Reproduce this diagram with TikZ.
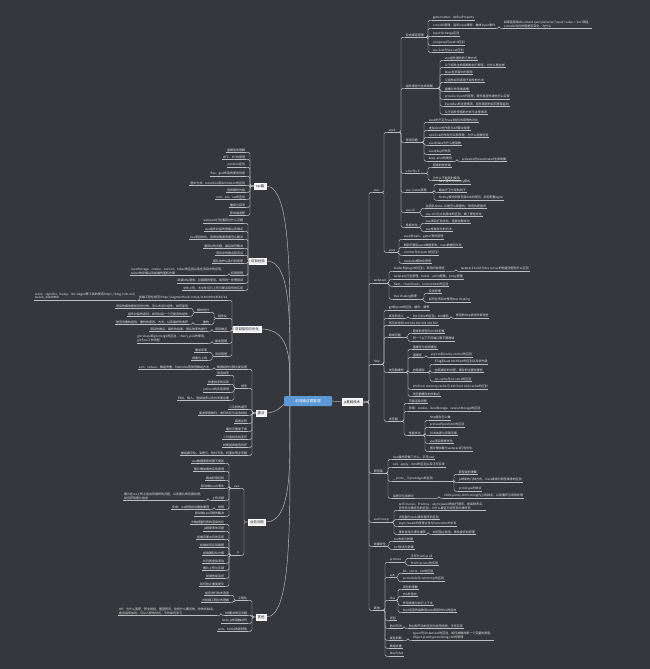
\documentclass[tikz,border=0pt]{standalone}
\usepackage{fontspec}
\newfontfamily\cjk{Noto Sans CJK SC}
\definecolor{bgc}{RGB}{54,55,60}
\definecolor{lc}{RGB}{190,190,194}
\definecolor{tc}{RGB}{232,232,232}
\definecolor{rootc}{RGB}{90,152,214}
\pgfdeclarelayer{back}
\pgfdeclarelayer{lines}
\pgfsetlayers{back,lines,main}
\newcommand\rconn[2]{\foreach \x in {#2}{\draw[conn] (#1) -| ([xshift=-4pt]\x.south west) -- (\x.south west);}}
\newcommand\lconn[2]{\foreach \x in {#2}{\draw[conn] (#1) -| ([xshift=4pt]\x.south east) -- (\x.south east);}}
\tikzset{
  conn/.style={draw=lc, line width=0.45pt, rounded corners=1.5pt},
  tx/.style={font=\cjk\fontsize{3}{3.7}\selectfont, text=tc, inner xsep=0.6pt, inner ysep=0.7pt, yshift=-2.3pt, align=left},
  rt/.style={tx, anchor=south west, append after command={(\tikzlastnode.south west) edge[conn] (\tikzlastnode.south east)}},
  lt/.style={tx, anchor=south east, append after command={(\tikzlastnode.south west) edge[conn] (\tikzlastnode.south east)}},
  box/.style={draw=white, fill=white!94!black, text=black!85, font=\cjk\fontsize{3.4}{4}\selectfont, inner xsep=1.8pt, inner ysep=1.5pt, line width=0.4pt},
  rootn/.style={fill=rootc, text=white, font=\cjk\fontsize{3.6}{4.2}\selectfont, minimum width=48pt, minimum height=10pt, rounded corners=1pt, inner sep=1pt}
}
\begin{document}
\begin{tikzpicture}[x=1pt,y=-1pt]
\begin{pgfonlayer}{back}
\fill[bgc] (0,0) rectangle (650,669);
\end{pgfonlayer}
\useasboundingbox (0,0) rectangle (650,669);

% ---------- root ----------
\node[rootn] (root) at (308,401) {前端面试题整理};
\node[box] (R) at (352,402) {js基础技术};
\draw[conn] (root.east) -- (R.west);

% ---------- right level 1 ----------
\node[rt] (R1) at (373,190) {vue};
\node[rt] (R2) at (373,281) {webpack};
\node[rt] (R3) at (373,362) {http};
\node[rt] (R4) at (373,471) {原型链};
\node[rt] (R5) at (373,520) {event loop};
\node[rt] (R6) at (373,544) {前端安全};
\node[rt] (R7) at (373,608) {其他};
\rconn{R.east}{R1,R2,R3,R4,R5,R6,R7}

% vue
\node[rt] (V2) at (388,130) {vue2};
\node[rt] (VX) at (388,250) {vuex};
\rconn{R1.south east}{V2,VX}
\node[rt] (A) at (405,35) {双向绑定原理};
\node[rt] (B) at (405,86) {组件通信与生命周期};
\node[rt] (C) at (405,140) {常用问题};
\node[rt] (D) at (405,171) {v-for与v-if};
\node[rt] (E) at (405,190) {vue-router原理};
\node[rt] (F) at (405,210) {vue-cli};
\node[rt] (G) at (405,225) {性能优化};
\rconn{V2.south east}{A,B,C,D,E,F,G}

\node[rt] (A1) at (432,18) {getter/setter、defineProperty};
\node[rt] (A2) at (432,26) {v-model原理，监听input事件、触发input事件};
\node[rt] (A3) at (432,34) {input与change区别};
\node[rt] (A4) at (432,43) {computed与watch区别};
\node[rt] (A5) at (432,50) {vue.\$set与Vue.set区别};
\rconn{A.south east}{A1,A2,A3,A4,A5}
\node[rt] (A2a) at (503,26) {如果直接给document.querySelector('input').value = 'xxx'赋值，\\v-model对应的值是否变化，为什么};
\rconn{A2.south east}{A2a}

\node[rt] (B1) at (444,58) {vue组件通信的几种方式};
\node[rt] (B2) at (444,65) {父子组件生命周期的执行顺序，为什么是这样};
\node[rt] (B3) at (444,72) {\$bus在项目中的使用};
\node[rt] (B4) at (444,80) {父组件如何调用子组件的方法};
\node[rt] (B5) at (444,89) {插槽与作用域插槽};
\node[rt] (B6) at (444,97) {provide/inject的原理，跨多层组件通信怎么实现};
\node[rt] (B7) at (444,104) {EventBus的注意事项，组件销毁时如何移除监听};
\node[rt] (B8) at (444,112) {父子组件传值的方式与注意事项};
\rconn{B.south east}{B1,B2,B3,B4,B5,B6,B7,B8}

\node[rt] (C1) at (428,120) {vue2的不足与vue3响应式原理的对比};
\node[rt] (C2) at (428,128) {虚拟dom的作用与diff算法原理};
\node[rt] (C3) at (428,135) {nextTick的作用与实现原理，为什么用微任务};
\node[rt] (C4) at (428,143) {vue中data为什么是函数};
\node[rt] (C5) at (428,152) {vue中key的作用};
\node[rt] (C6) at (428,159) {keep-alive的使用};
\rconn{C.south east}{C1,C2,C3,C4,C5,C6}
\node[rt] (C6a) at (461,159) {activated与deactivated生命周期};
\rconn{C6.south east}{C6a}

\node[rt] (D1) at (432,165) {两者的优先级};
\node[rt] (D2) at (432,178) {为什么不能同时使用};
\rconn{D.south east}{D1,D2}

\node[rt] (E1) at (438,182) {hash模式与history模式};
\node[rt] (E2) at (438,190) {路由守卫与导航钩子};
\node[rt] (E3) at (438,198) {history模式刷新页面404的原因，如何配置nginx};
\rconn{E.south east}{E1,E2,E3}

\node[rt] (F1) at (425,206) {在团队中vue-cli是怎么配置的，常用的配置项};
\node[rt] (F2) at (425,214) {vue-cli3与之前版本的区别，做了哪些优化};
\rconn{F.south east}{F1,F2}

\node[rt] (G1) at (425,221) {vue项目打包优化，首屏加载优化};
\node[rt] (G2) at (425,229) {vue性能优化的方法};
\rconn{G.south east}{G1,G2}

\node[rt] (X1) at (403,237) {vuex的state、getter等的原理};
\node[rt] (X2) at (403,245) {刷新页面后vuex数据丢失，vuex数据持久化};
\node[rt] (X3) at (403,253) {commit与dispatch的区别};
\node[rt] (X4) at (403,261) {modules模块化管理};
\rconn{VX.south east}{X1,X2,X3,X4}

% webpack
\node[rt] (W1) at (393,269) {loader和plugin的区别，常用的有哪些};
\node[rt] (W2) at (393,277) {webpack打包原理，babel、eslint配置，proxy配置};
\node[rt] (W3) at (393,284) {hash、chunkhash、contenthash的区别};
\node[rt] (W4) at (393,297) {tree shaking原理};
\rconn{R2.south east}{W1,W2,W3,W4}
\node[rt] (W1a) at (460,269) {webpack build与dev server的构建流程有什么区别};
\rconn{W1.south east}{W1a}
\node[rt] (W4a) at (428,291) {实现原理};
\node[rt] (W4b) at (428,300) {如何在项目中使用tree shaking};
\rconn{W4.south east}{W4a,W4b}

% http
\node[rt] (H1) at (388,308) {get和post的区别、缓存、幂等};
\node[rt] (H2) at (388,316) {状态码含义};
\node[rt] (H3) at (388,323) {常见状态码 200 301 302 304 404 500};
\node[rt] (H4) at (388,335) {跨域问题};
\node[rt] (H5) at (388,370) {浏览器缓存};
\node[rt] (H6) at (388,419) {浏览器};
\rconn{R3.south east}{H1,H2,H3,H4,H5,H6}
\node[rt] (H2a) at (412,316) {301与302的区别，304缓存};
\rconn{H2.south east}{H2a}
\node[rt] (H2b) at (455,316) {常用的http状态码有哪些};
\rconn{H2a.south east}{H2b}
\node[rt] (H4a) at (412,331) {跨域的原因与CORS配置};
\node[rt] (H4b) at (412,339) {同一个ip下不同端口算不算跨域};
\rconn{H4.south east}{H4a,H4b}
\node[rt] (H51) at (412,347) {强缓存与协商缓存};
\node[rt] (H52) at (412,355) {强缓存};
\node[rt] (H53) at (412,370) {协商缓存};
\node[rt] (H54) at (412,387) {200 from memory cache 与 200 from disk cache的区别};
\node[rt] (H55) at (412,394) {浏览器缓存的优缺点};
\rconn{H5.south east}{H51,H52,H53,H54,H55}
\node[rt] (H52a) at (430,355) {expires和cache-control的区别};
\rconn{H52.south east}{H52a}
\node[rt] (H53a) at (434,362) {ETag和Last-Modified的区别以及优先级};
\node[rt] (H53b) at (434,370) {协商缓存的过程，缓存的位置有哪些};
\node[rt] (H53c) at (434,379) {no-cache与no-store的区别};
\rconn{H53.south east}{H53a,H53b,H53c}
\node[rt] (H61) at (408,401) {页面渲染流程};
\node[rt] (H62) at (408,409) {存储：cookie、localStorage、sessionStorage的区别};
\node[rt] (H63) at (408,433) {性能优化};
\rconn{H6.south east}{H61,H62,H63}
\node[rt] (H63a) at (429,418) {http缓存怎么做};
\node[rt] (H63b) at (429,425) {preload与prefetch的区别};
\node[rt] (H63c) at (429,433) {CDN加速与资源压缩};
\node[rt] (H63d) at (429,441) {vue项目首屏优化};
\node[rt] (H63e) at (429,449) {图片懒加载与webpack打包优化};
\rconn{H63.south east}{H63a,H63b,H63c,H63d,H63e}

% 原型链
\node[rt] (P1) at (392,457) {new操作符做了什么，手写new};
\node[rt] (P2) at (392,465) {call、apply、bind的区别以及手写实现};
\node[rt] (P3) at (392,479) {\_\_proto\_\_与prototype的区别};
\node[rt] (P4) at (392,496) {深拷贝与浅拷贝};
\rconn{R4.south east}{P1,P2,P3,P4}
\node[rt] (P3a) at (458,472) {原型链的理解};
\node[rt] (P3b) at (458,480) {js继承的几种方式，class继承与原型继承的区别};
\node[rt] (P3c) at (458,489) {prototype的缺点};
\rconn{P3.south east}{P3a,P3b,P3c}
\node[rt] (P4a) at (443,496) {JSON.parse(JSON.stringify())的缺点，以及循环引用的处理};
\rconn{P4.south east}{P4a}

% event loop
\node[rt] (Q1) at (398,508) {setTimeout、Promise、async/await的执行顺序，是高频考点，\\宏任务与微任务的区别，为什么要区分宏任务与微任务};
\node[rt] (Q2) at (398,517) {浏览器与node事件循环的区别};
\node[rt] (Q3) at (398,524) {async/await的原理以及与Generator的关系};
\node[rt] (Q4) at (398,532) {事件冒泡与事件捕获};
\rconn{R5.south east}{Q1,Q2,Q3,Q4}
\node[rt] (Q4a) at (432,532) {如何阻止冒泡，事件委托的原理};
\rconn{Q4.south east}{Q4a}

% 前端安全
\node[rt] (S1) at (393,539) {xss攻击与防御};
\node[rt] (S2) at (393,547) {csrf攻击与防御};
\rconn{R6.south east}{S1,S2}

% 其他 (right)
\node[rt] (O1) at (389,560) {promise};
\node[rt] (O2) at (389,575) {es6};
\node[rt] (O3) at (389,598) {this};
\node[rt] (O4) at (389,618) {闭包};
\node[rt] (O5) at (389,626) {防抖节流};
\node[rt] (O6) at (389,638) {类型判断};
\node[rt] (O7) at (389,646) {数组去重};
\node[rt] (O8) at (389,654) {Map与Set};
\rconn{R7.south east}{O1,O2,O3,O4,O5,O6,O7,O8}
\node[rt] (O1a) at (410,556) {手写Promise.all};
\node[rt] (O1b) at (410,563) {Promise.race的实现};
\rconn{O1.south east}{O1a,O1b}
\node[rt] (O2a) at (402,571) {let、const、var的区别};
\node[rt] (O2b) at (402,579) {es module与commonjs的区别};
\rconn{O2.south east}{O2a,O2b}
\node[rt] (O3a) at (402,587) {闭包的理解};
\node[rt] (O3b) at (402,594) {this的指向};
\node[rt] (O3c) at (402,603) {作用域链与执行上下文};
\node[rt] (O3d) at (402,610) {bind返回的函数用new调用时this的指向};
\rconn{O3.south east}{O3a,O3b,O3c,O3d}
\node[rt] (O5a) at (408,626) {防抖和节流的区别与应用场景，手写实现};
\rconn{O5.south east}{O5a}
\node[rt] (O6a) at (412,638) {typeof与instanceof的区别，如何准确判断一个变量的类型，\\Object.prototype.toString.call的原理};
\rconn{O6.south east}{O6a}

% ---------- left level 1 ----------
\node[box] (L1) at (260,186) {css篇};
\node[box] (L2) at (258,261) {项目经验};
\node[box] (L3) at (247,329) {项目架构与优化};
\node[box] (L4) at (261,413) {算法};
\node[box] (L5) at (257,522) {业务问题};
\node[box] (L6) at (261,617) {其他};
\begin{pgfonlayer}{lines}
\draw[conn] ([xshift=6pt]root.west) .. controls (290,293) and (293,186) .. (L1.east);
\draw[conn] ([xshift=6pt]root.west) .. controls (290,331) and (293,261) .. (L2.east);
\draw[conn] ([xshift=6pt]root.west) .. controls (290,365) and (293,329) .. (L3.east);
\draw[conn] ([xshift=6pt]root.west) .. controls (284,401) and (280,413) .. (L4.east);
\draw[conn] ([xshift=6pt]root.west) .. controls (290,461) and (293,522) .. (L5.east);
\draw[conn] ([xshift=6pt]root.west) .. controls (290,509) and (293,617) .. (L6.east);
\end{pgfonlayer}

% css
\node[lt] (c1) at (246,150) {盒模型的理解};
\node[lt] (c2) at (246,157) {BFC、IFC的原理};
\node[lt] (c3) at (246,165) {position定位};
\node[lt] (c4) at (246,174) {flex、grid布局的使用场景};
\node[lt] (c5) at (246,183) {居中方式、transition和animation的区别};
\node[lt] (c6) at (246,190) {选择器优先级};
\node[lt] (c7) at (246,197) {rem、em、vw的区别};
\node[lt] (c8) at (246,205) {重绘与回流};
\node[lt] (c9) at (246,213) {移动端适配};
\lconn{L1.west}{c1,c2,c3,c4,c5,c6,c7,c8,c9}

% 项目经验
\node[lt] (d1) at (244,221) {webpack打包遇到过什么问题};
\node[lt] (d2) at (244,229) {vue组件封装的思路以及难点};
\node[lt] (d3) at (244,237) {vue项目优化，首屏加载速度慢怎么解决};
\node[lt] (d4) at (244,246) {遇到过的问题，最后如何解决};
\node[lt] (d5) at (244,253) {项目中的难点和亮点};
\node[lt] (d6) at (244,261) {团队协作以及代码管理};
\node[lt] (d7) at (244,273) {权限管理};
\node[lt] (d8) at (244,281) {封装http请求，拦截器的使用，如何统一处理错误};
\node[lt] (d9) at (244,288) {文件上传，大文件切片上传与断点续传的实现};
\lconn{L2.west}{d1,d2,d3,d4,d5,d6,d7,d8,d9}
\node[lt] (d7a) at (225,273) {localStorage、cookie、session、token的区别以及在项目中的应用，\\token的存储以及前端的鉴权方案};
\lconn{d7.south west}{d7a}

% 项目架构与优化
\node[lt] (K1) at (228,298) {前端工程化规范 https://segmentfault.com/a/1190000018536716};
\node[lt] (K2) at (228,316) {组件化};
\node[lt] (K3) at (228,329) {项目难点};
\node[lt] (K4) at (228,341) {版本管理};
\node[lt] (K5) at (228,354) {项目管理};
\lconn{L3.west}{K1,K2,K3,K4,K5}
\node[lt] (K1a) at (136,298) {eslint、stylelint、husky、lint-staged等工具的使用 https://blog.csdn.net/\\weixin\_43638968};
\lconn{K1.south west}{K1a}
\node[lt] (K21) at (210,310) {模块划分};
\node[lt] (K22) at (210,322) {重构};
\lconn{K2.south west}{K21,K22}
\node[lt] (K21a) at (189,306) {项目的模块是如何划分的，怎么去设计组件，如何复用};
\node[lt] (K21b) at (189,314) {组件封装的原则，如何封装一个可复用的组件};
\lconn{K21.south west}{K21a,K21b}
\node[lt] (K22a) at (189,322) {是否有重构经验，重构的原因、方法，以及最终的收获};
\lconn{K22.south west}{K22a}
\node[lt] (K3a) at (208,329) {项目的难点、最终的结果、团队效率的提升};
\lconn{K3.south west}{K3a}
\node[lt] (K4a) at (208,341) {git rebase和git merge的区别，cherry-pick的使用，\\git flow工作流程};
\lconn{K4.south west}{K4a}
\node[lt] (K5a) at (208,350) {需求评审};
\node[lt] (K5b) at (208,358) {排期与上线};
\lconn{K5.south west}{K5a,K5b}

% 算法
\node[lt] (g1) at (248,367) {数据结构与算法复杂度};
\node[lt] (g2) at (248,386) {排序};
\node[lt] (g3) at (248,407) {二叉树的遍历};
\node[lt] (g4) at (248,413) {斐波那契数列，递归优化与动态规划};
\node[lt] (g5) at (248,421) {链表反转};
\node[lt] (g6) at (248,429) {最长无重复子串};
\node[lt] (g7) at (248,437) {二分查找及其变形};
\node[lt] (g8) at (248,445) {判断链表是否有环};
\node[lt] (g9) at (248,453) {数组扁平化、深拷贝、防抖节流、柯里化等手写题};
\lconn{L4.west}{g1,g2,g3,g4,g5,g6,g7,g8,g9}
\node[lt] (g1a) at (210,367) {sort、reduce、数组去重、findIndex等常用数组方法};
\lconn{g1.south west}{g1a}
\node[lt] (g2a) at (230,373) {冒泡排序};
\node[lt] (g2b) at (230,382) {快速排序的实现};
\node[lt] (g2c) at (230,390) {js中sort的实现原理};
\node[lt] (g2d) at (230,398) {归并、插入、选择排序以及时间复杂度};
\lconn{g2.south west}{g2a,g2b,g2c,g2d}

% 业务问题
\node[lt] (b1) at (240,486) {vue};
\node[lt] (b2) at (240,553) {js};
\lconn{L5.west}{b1,b2}
\node[lt] (b1a) at (225,461) {vue数据更新视图不更新};
\node[lt] (b1b) at (225,469) {图片懒加载的实现原理};
\node[lt] (b1c) at (225,478) {路由权限控制};
\node[lt] (b1d) at (225,486) {移动端touch事件};
\node[lt] (b1e) at (225,498) {上传问题};
\node[lt] (b1f) at (225,507) {视频};
\node[lt] (b1g) at (225,514) {移动端1px问题的解决};
\lconn{b1.south west}{b1a,b1b,b1c,b1d,b1e,b1f,b1g}
\node[lt] (b1e1) at (204,498) {图片在ios上传之后出现旋转的问题，以及图片的压缩处理，\\如何获取图片信息};
\lconn{b1e.south west}{b1e1}
\node[lt] (b1f1) at (210,507) {安卓、ios视频自动播放兼容};
\lconn{b1f.south west}{b1f1}
\node[lt] (b2a) at (225,522) {大数据量列表的渲染优化};
\node[lt] (b2b) at (225,529) {js精度丢失问题};
\node[lt] (b2c) at (225,537) {前端页面水印的实现};
\node[lt] (b2d) at (225,545) {前端如何实现截图};
\node[lt] (b2e) at (225,553) {前端国际化方案};
\node[lt] (b2f) at (225,561) {长列表虚拟滚动};
\node[lt] (b2g) at (225,568) {图片上传与压缩};
\node[lt] (b2h) at (225,576) {前端性能监控};
\node[lt] (b2i) at (225,584) {如何防止重复提交};
\lconn{b2.south west}{b2a,b2b,b2c,b2d,b2e,b2f,b2g,b2h,b2i}

% 其他 (left)
\node[lt] (h1) at (248,598) {工程化};
\node[lt] (h2) at (248,613) {HR面试常见问题};
\node[lt] (h3) at (248,621) {node.js有接触过吗};
\node[lt] (h4) at (248,629) {web、html5的新特性};
\lconn{L6.west}{h1,h2,h3,h4}
\node[lt] (h1a) at (230,593) {如何进行技术选型};
\node[lt] (h1b) at (230,600) {对前端工程化的理解};
\lconn{h1.south west}{h1a,h1b}
\node[lt] (h2a) at (217,613) {HR：为什么离职，职业规划，期望薪资，你有什么要问的，你的优缺点，\\能否接受加班，可以入职的时间，平时如何学习};
\lconn{h2.south west}{h2a}
\end{tikzpicture}
\end{document}
